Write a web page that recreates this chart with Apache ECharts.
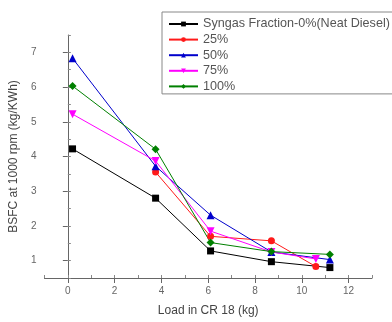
<!DOCTYPE html>
<html>
<head>
<meta charset="utf-8">
<script src="https://cdn.jsdelivr.net/npm/echarts@6/dist/echarts.min.js"></script>
<style>
  html, body { margin: 0; padding: 0; background: #fff; }
  #bsfc { width: 392px; height: 322px; }
</style>
</head>
<body>
<div id="bsfc"></div>
<script>
// load (kg) at each measuring point
const loadX = [0.2, 3.75, 6.1, 8.7, 11.2]
const loadXShort = [0.2, 3.75, 6.1, 8.7, 10.6]
const loadXRed = [3.75, 6.1, 8.7, 10.6]

// BSFC values
const bsfc0 = [4.22, 2.8, 1.28, 0.97, 0.8]
const bsfc25 = [3.55, 1.7, 1.57, 0.83]
const bsfc50 = [6.83, 3.72, 2.31, 1.25, 1.03]
const bsfc75 = [5.22, 3.87, 1.85, 1.25, 1.05]
const bsfc100 = [6.03, 4.21, 1.52, 1.26, 1.18]

const seriesNames = ['Syngas Fraction-0%(Neat Diesel)', '25%', '50%', '75%', '100%']
const xTicks = [0, 2, 4, 6, 8, 10, 12]
const yTicks = [1, 2, 3, 4, 5, 6, 7]

const font = 'Liberation Sans, Arial, sans-serif'
const pairs = (xs, ys) => ys.map((y, i) => [xs[i], y])

const lineSeries = (name, data, color, symbol, size, rotate) => ({
  name,
  type: 'line',
  data,
  symbol,
  symbolSize: size,
  symbolRotate: rotate || 0,
  color,
  lineStyle: { width: 1, color },
  itemStyle: { color },
  animation: false
})

const axisLine = { lineStyle: { color: '#666', width: 1 } }
const axisLabel = { color: '#666', fontSize: 10, fontFamily: font }

const option = {
  backgroundColor: '#fff',
  grid: { left: 37, right: 20, top: 35, bottom: 40 },
  legend: {
    orient: 'vertical',
    left: 162,
    top: 12,
    padding: [5.5, 20, 1, 6],
    itemWidth: 29,
    itemHeight: 6,
    itemGap: 2.6,
    borderColor: '#888',
    borderWidth: 1,
    data: seriesNames,
    textStyle: { color: '#555', fontSize: 12.6, fontFamily: font, lineHeight: 13 }
  },
  xAxis: [
    {
      type: 'value',
      min: -1,
      max: 13,
      name: 'Load in CR 18 (kg)',
      nameLocation: 'middle',
      nameGap: 27,
      nameTextStyle: { color: '#444', fontSize: 12, fontFamily: font },
      axisLine,
      axisTick: { show: true, length: 5, customValues: xTicks, lineStyle: { color: '#666' } },
      axisLabel: Object.assign({ margin: 8, customValues: xTicks }, axisLabel),
      splitLine: { show: false }
    },
    {
      type: 'value',
      position: 'bottom',
      min: -1,
      max: 13,
      interval: 1,
      axisLine: { show: false },
      axisTick: { inside: true, length: 3, lineStyle: { color: '#888' } },
      axisLabel: { show: false },
      splitLine: { show: false }
    }
  ],
  yAxis: [
    {
      type: 'value',
      min: 0.5,
      max: 7.5,
      name: 'BSFC at 1000 rpm (kg/KWh)',
      nameLocation: 'middle',
      nameGap: 16,
      nameTextStyle: { color: '#444', fontSize: 12, fontFamily: font },
      axisLine: Object.assign({ show: true }, axisLine),
      axisTick: { show: true, length: 5, customValues: yTicks, lineStyle: { color: '#666' } },
      axisLabel: Object.assign({ margin: 8, customValues: yTicks }, axisLabel),
      splitLine: { show: false }
    },
    {
      type: 'value',
      position: 'left',
      min: 0.5,
      max: 7.5,
      interval: 0.5,
      axisLine: { show: false },
      axisTick: { show: true, inside: true, length: 3, lineStyle: { color: '#888' } },
      axisLabel: { show: false },
      splitLine: { show: false }
    }
  ],
  series: [
    lineSeries(seriesNames[0], pairs(loadX, bsfc0), '#000000', 'rect', 7),
    lineSeries(seriesNames[1], pairs(loadXRed, bsfc25), '#ff1a1a', 'circle', 7),
    lineSeries(seriesNames[2], pairs(loadX, bsfc50), '#0000cc', 'triangle', 8),
    lineSeries(seriesNames[3], pairs(loadXShort, bsfc75), '#ff00ff', 'triangle', 8, 180),
    lineSeries(seriesNames[4], pairs(loadX, bsfc100), '#008000', 'diamond', 8)
  ]
}

const chart = echarts.init(document.getElementById('bsfc'), null, { renderer: 'canvas' })
chart.setOption(option)
</script>
</body>
</html>
